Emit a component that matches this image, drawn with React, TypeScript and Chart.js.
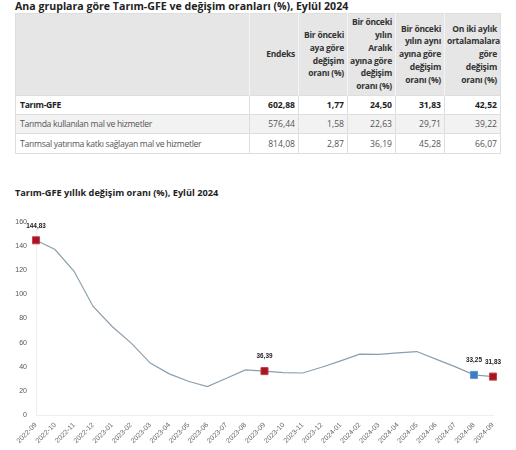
import React, { useEffect, useRef } from "react";
import { Chart, registerables } from "chart.js";
Chart.register(...registerables);

const tableTitle = "Ana gruplara göre Tarım-GFE ve değişim oranları (%), Eylül 2024";
const chartTitle = "Tarım-GFE yıllık değişim oranı (%), Eylül 2024";

const headerLines: string[][] = [
  [],
  ["Endeks"],
  ["Bir önceki", "aya göre", "değişim", "oranı (%)"],
  ["Bir önceki", "yılın", "Aralık", "ayına göre", "değişim", "oranı (%)"],
  ["Bir önceki", "yılın aynı", "ayına göre", "değişim", "oranı (%)"],
  ["On iki aylık", "ortalamalara", "göre", "değişim", "oranı (%)"],
];
const rowNames = [
  "Tarım-GFE",
  "Tarımda kullanılan mal ve hizmetler",
  "Tarımsal yatırıma katkı sağlayan mal ve hizmetler",
];
const rowValues: string[][] = [
  ["602,88", "1,77", "24,50", "31,83", "42,52"],
  ["576,44", "1,58", "22,63", "29,71", "39,22"],
  ["814,08", "2,87", "36,19", "45,28", "66,07"],
];

const months = [
  "2022-09", "2022-10", "2022-11", "2022-12", "2023-01", "2023-02", "2023-03",
  "2023-04", "2023-05", "2023-06", "2023-07", "2023-08", "2023-09", "2023-10",
  "2023-11", "2023-12", "2024-01", "2024-02", "2024-03", "2024-04", "2024-05",
  "2024-06", "2024-07", "2024-08", "2024-09",
];
const annualChange = [
  144.83, 137.2, 119.1, 90.0, 73.4, 59.6, 43.0, 34.1, 28.0, 23.5, 30.5, 37.4,
  36.39, 35.2, 34.8, 39.6, 44.9, 50.5, 50.3, 51.5, 52.6, 46.3, 40.1, 33.25, 31.83,
];
const redMarked = ["2022-09", "2023-09", "2024-09"];
const blueMarked = ["2024-08"];
const yTicks = [0, 20, 40, 60, 80, 100, 120, 140, 160];

const FONT = "'Open Sans', 'Noto Sans', sans-serif";
const AXFONT = "'Liberation Sans', Arial, sans-serif";
const colWidths = [234, 49, 49, 48, 49, 56];

const labelPlugin = {
  id: "pointLabels",
  afterDatasetsDraw(chart: any) {
    const ctx = chart.ctx;
    const meta = chart.getDatasetMeta(0);
    ctx.save();
    ctx.font = "bold 6.4px " + AXFONT;
    ctx.fillStyle = "#222";
    ctx.textAlign = "center";
    ctx.textBaseline = "middle";
    months.forEach((m, i) => {
      if (redMarked.includes(m) || blueMarked.includes(m)) {
        const p = meta.data[i];
        ctx.fillText(annualChange[i].toFixed(2).replace(".", ","), p.x, p.y - 14.5);
      }
    });
    ctx.restore();
  },
};

function LineChart() {
  const ref = useRef<HTMLCanvasElement>(null);
  useEffect(() => {
    if (!ref.current) return;
    const chart = new Chart(ref.current, {
      type: "line",
      data: {
        labels: months,
        datasets: [
          {
            data: annualChange,
            borderColor: "#8a9fae",
            borderWidth: 1.2,
            tension: 0,
            pointStyle: "rect",
            pointRadius: months.map((m) => (redMarked.includes(m) || blueMarked.includes(m) ? 5 : 0)),
            pointBackgroundColor: months.map((m) => (blueMarked.includes(m) ? "#3d7ebf" : "#a8141f")),
            pointBorderColor: months.map((m) => (blueMarked.includes(m) ? "#5d96cf" : "#c4434c")),
            pointBorderWidth: 1,
          },
        ],
      },
      options: {
        animation: false,
        responsive: false,
        maintainAspectRatio: false,
        layout: { padding: { top: 22, right: 23, left: 0, bottom: 0 } },
        plugins: { legend: { display: false }, tooltip: { enabled: false } },
        scales: {
          x: {
            grid: { display: false, drawTicks: false },
            border: { display: true, color: "#eeeeee" },
            ticks: {
              autoSkip: false,
              maxRotation: 45,
              minRotation: 45,
              padding: 6,
              color: "#666",
              font: { size: 7, family: AXFONT },
            },
            afterFit: (s: any) => {
              s.height = 35;
            },
          },
          y: {
            min: 0,
            max: 160,
            grid: { display: false, drawTicks: false },
            border: { display: true, color: "#eeeeee" },
            afterBuildTicks: (s: any) => {
              s.ticks = yTicks.map((v) => ({ value: v }));
            },
            ticks: {
              padding: 9,
              color: "#555",
              font: { size: 7, family: AXFONT },
            },
            afterFit: (s: any) => {
              s.width = 36;
            },
          },
        },
      },
      plugins: [labelPlugin],
    });
    return () => chart.destroy();
  }, []);
  return (
    <canvas
      ref={ref}
      width={516}
      height={250}
      style={{ position: "absolute", left: 0, top: 200, width: 516, height: 250 }}
    />
  );
}

export default function App() {
  const cellBase: React.CSSProperties = {
    boxSizing: "border-box",
    padding: "0 3px 0 2px",
    textAlign: "right",
    borderLeft: "1px solid #dedede",
    whiteSpace: "nowrap",
    overflow: "visible",
  };
  return (
    <div style={{ position: "absolute", left: 0, top: 0, width: 516, height: 450, background: "#fff", fontFamily: FONT, overflow: "hidden" }}>
      <div style={{ position: "absolute", left: 15, top: 0, fontSize: 10.6, fontWeight: 700, lineHeight: "12px", color: "#222", whiteSpace: "nowrap" }}>
        {tableTitle}
      </div>
      <table
        style={{
          position: "absolute",
          left: 15,
          top: 13,
          width: 485,
          borderCollapse: "collapse",
          tableLayout: "fixed",
          fontSize: 8.6,
          color: "#333",
          border: "1px solid #dedede",
        }}
      >
        <colgroup>
          {colWidths.map((w, i) => (
            <col key={i} style={{ width: w }} />
          ))}
        </colgroup>
        <thead>
          <tr style={{ height: 82, background: "#e6e6e6" }}>
            {headerLines.map((lines, i) => (
              <th
                key={i}
                style={{
                  ...cellBase,
                  borderLeft: i === 0 ? "none" : "1px solid #f4f4f4",
                  fontWeight: 700,
                  fontSize: 8.5,
                  letterSpacing: "-0.25px",
                  lineHeight: "12.7px",
                  verticalAlign: "middle",
                  color: "#333",
                }}
              >
                {lines.map((l, j) => (
                  <React.Fragment key={j}>
                    {l}
                    {j < lines.length - 1 && <br />}
                  </React.Fragment>
                ))}
              </th>
            ))}
          </tr>
        </thead>
        <tbody>
          {rowNames.map((name, r) => (
            <tr
              key={r}
              style={{
                height: r === 2 ? 20 : 19,
                background: r === 1 ? "#f2f2f2" : "#fff",
                borderTop: "1px solid #dedede",
                fontWeight: r === 0 ? 700 : 400,
                color: r === 0 ? "#222" : "#555",
              }}
            >
              <td style={{ ...cellBase, textAlign: "left", borderLeft: "none", paddingLeft: 4, letterSpacing: "-0.3px" }}>{name}</td>
              {rowValues[r].map((v, c) => (
                <td key={c} style={cellBase}>
                  {v}
                </td>
              ))}
            </tr>
          ))}
        </tbody>
      </table>
      <div style={{ position: "absolute", left: 15, top: 187, fontSize: 9.2, fontWeight: 700, lineHeight: "12px", color: "#222", whiteSpace: "nowrap" }}>
        {chartTitle}
      </div>
      <LineChart />
    </div>
  );
}
